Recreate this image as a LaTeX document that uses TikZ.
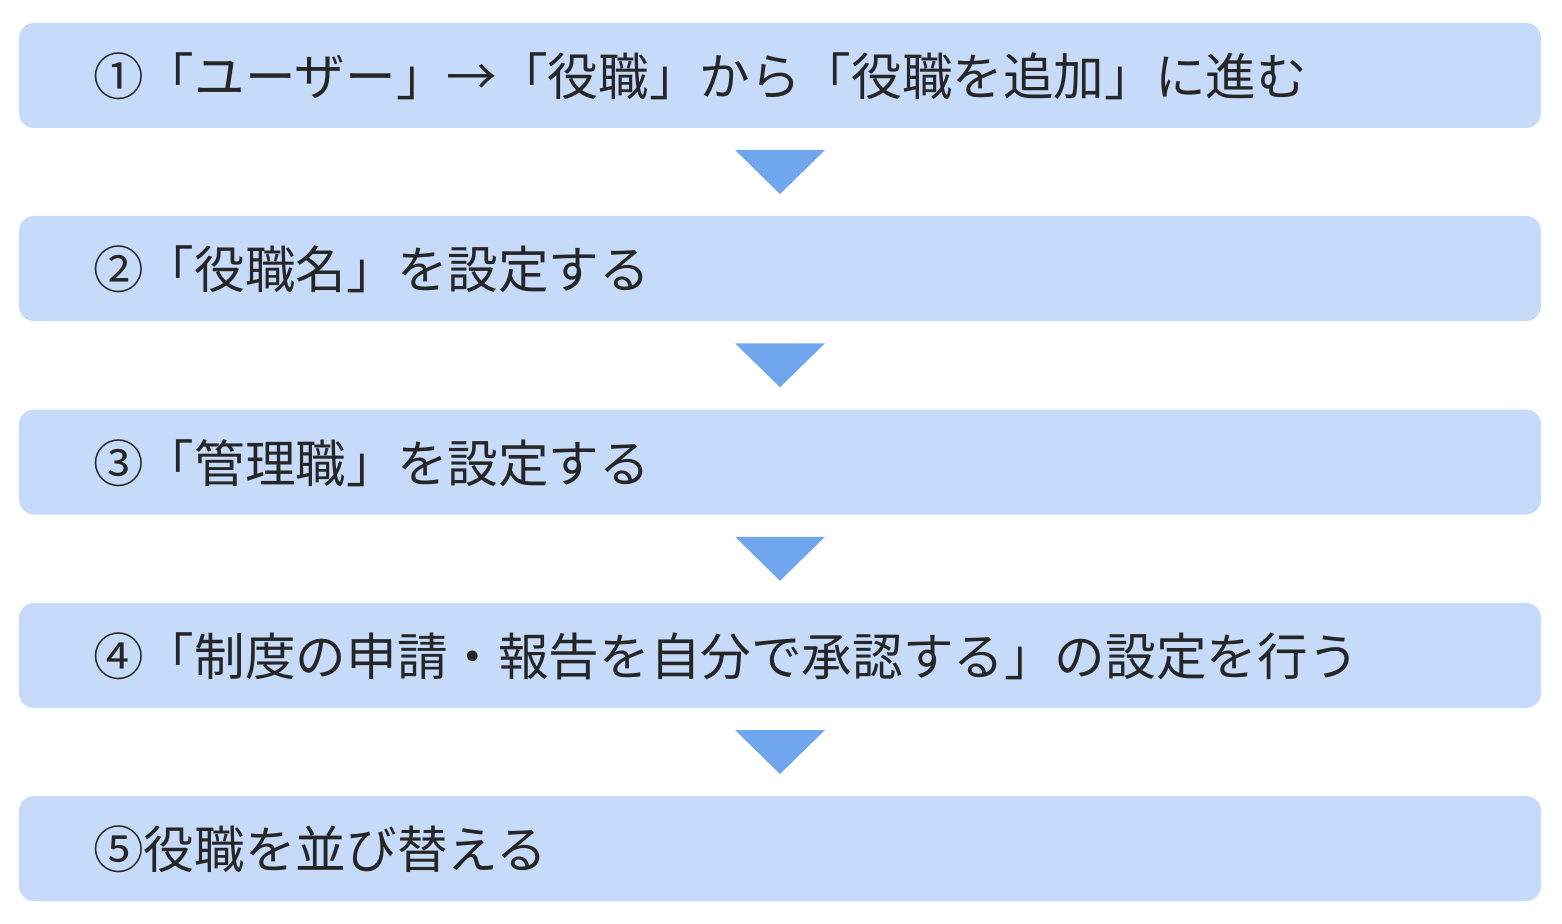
\documentclass[tikz,border=0pt]{standalone}
\usepackage{fontspec}
\setmainfont{Noto Sans CJK JP}
\usetikzlibrary{positioning,calc}
\definecolor{boxblue}{HTML}{C6DBF9}
\definecolor{arrowblue}{HTML}{6FA6EE}
\tikzset{
  stepbox/.style={fill=boxblue, rounded corners=0.3cm, minimum width=30.44cm, minimum height=2.1cm, inner sep=0pt},
  steptext/.style={anchor=west, inner sep=0pt, font=\fontsize{28.8pt}{32pt}\selectfont, text=black!85},
}
\begin{document}
\begin{tikzpicture}
  \useasboundingbox (0,0) rectangle (31.24,-18.48);
  % boxes
  \node[stepbox] (b1) at (15.6,-1.51) {};
  \node[stepbox] (b2) at (15.6,-5.37) {};
  \node[stepbox] (b3) at (15.6,-9.24) {};
  \node[stepbox] (b4) at (15.6,-13.11) {};
  \node[stepbox] (b5) at (15.6,-16.97) {};
  % texts
  \node[steptext] (t1) at (1.86,-1.53) {①「ユーザー」→「役職」から「役職を追加」に進む};
  \node[steptext] (t2) at (1.86,-5.39) {②「役職名」を設定する};
  \node[steptext] (t3) at (1.86,-9.26) {③「管理職」を設定する};
  \node[steptext] (t4) at (1.86,-13.13) {④「制度の申請・報告を自分で承認する」の設定を行う};
  \node[steptext] (t5) at (1.86,-16.99) {⑤役職を並び替える};
  % arrows
  \foreach \a/\b in {b1/b2,b2/b3,b3/b4,b4/b5}
    \fill[arrowblue] ($(\a.south)!0.5!(\b.north)$) ++(-0.9,0.44) -- ++(1.8,0) -- ++(-0.9,-0.88) -- cycle;
\end{tikzpicture}
\end{document}
